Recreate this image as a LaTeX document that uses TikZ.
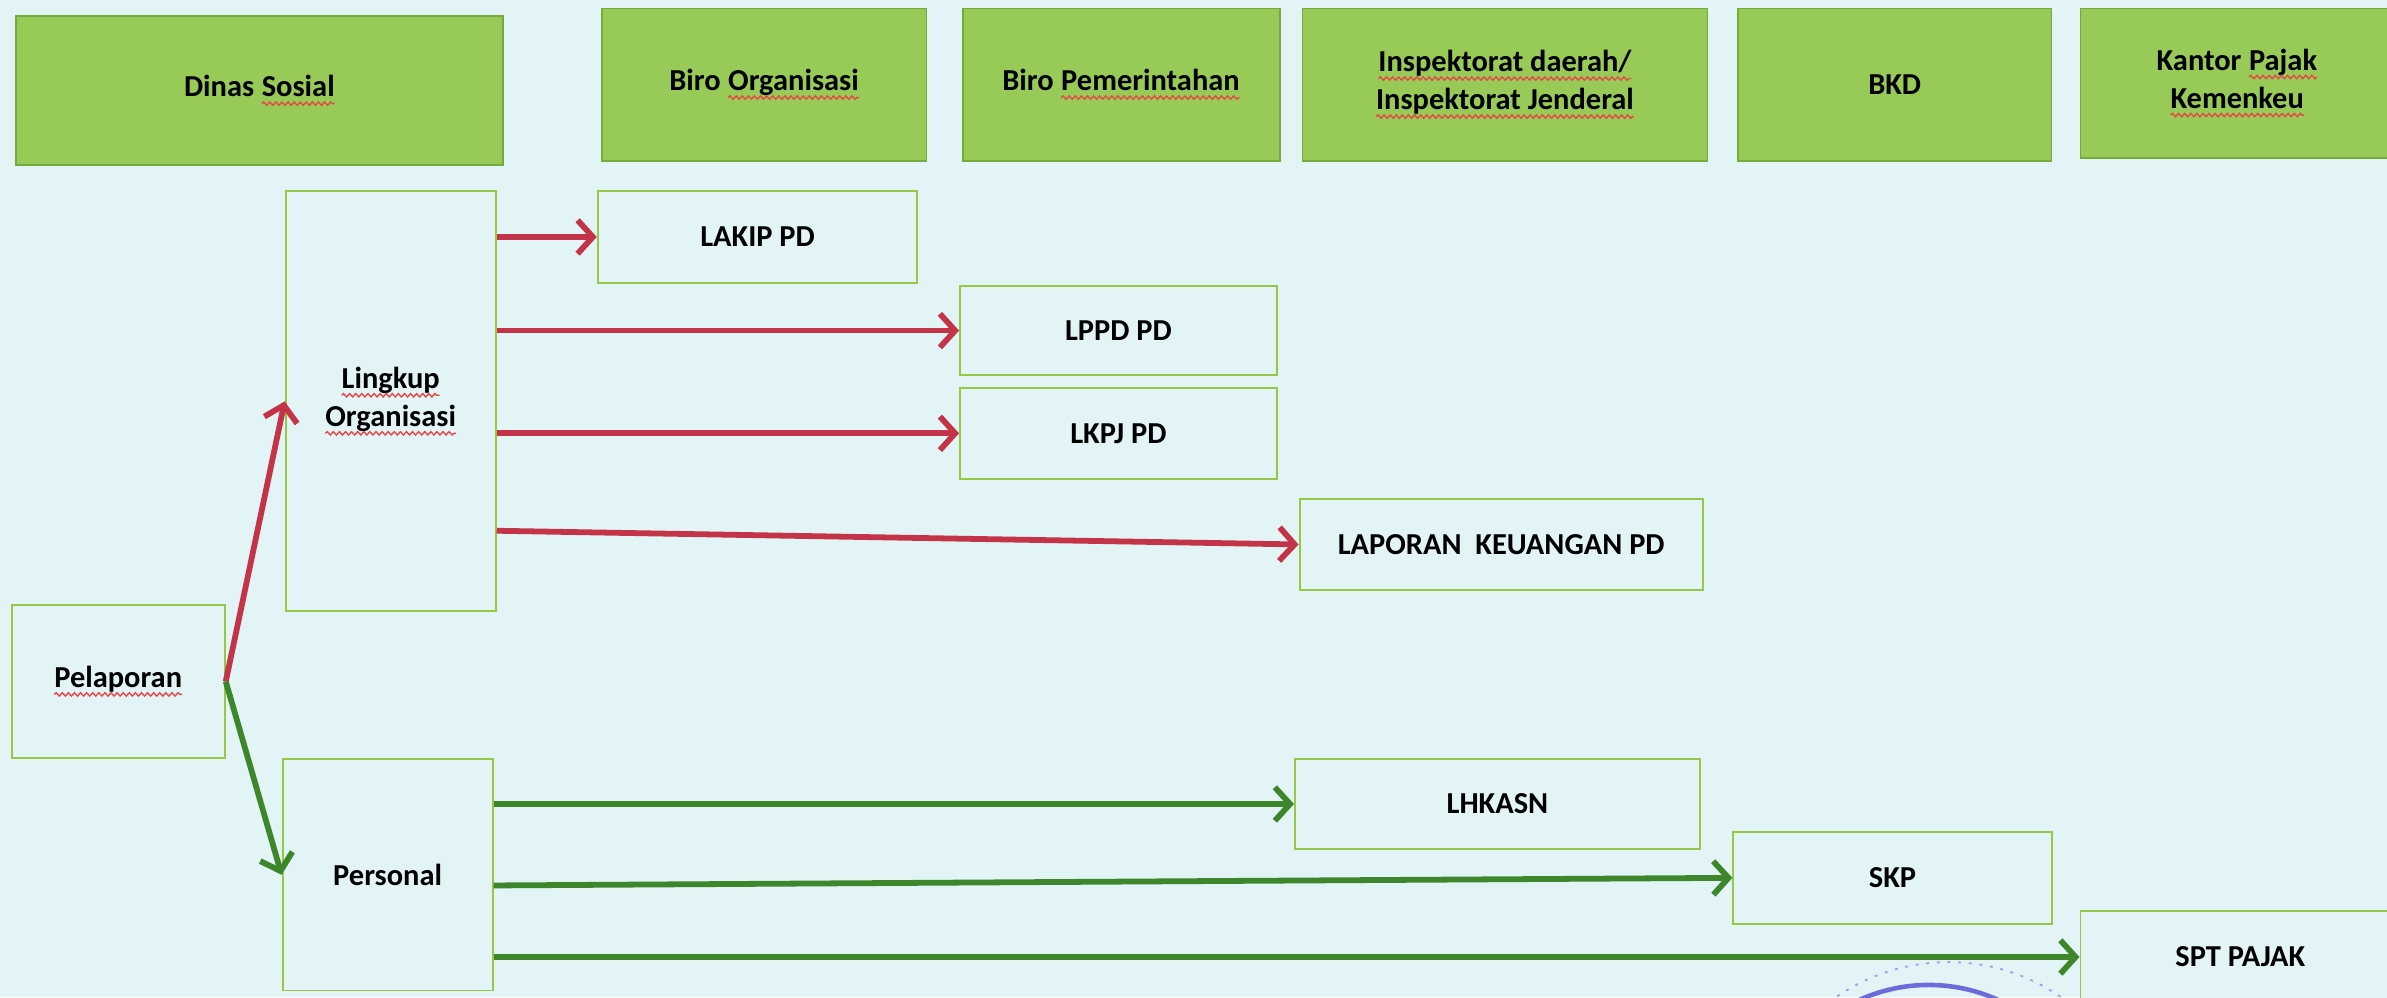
\documentclass[tikz,border=0pt]{standalone}
\usepackage{fontspec}
\setmainfont{Carlito}
\usetikzlibrary{arrows.meta,decorations.pathmorphing,calc}
\definecolor{bg}{RGB}{226,244,246}
\definecolor{hdrfill}{RGB}{152,202,88}
\definecolor{hdrline}{RGB}{118,170,60}
\definecolor{boxline}{RGB}{150,200,70}
\definecolor{redar}{RGB}{196,52,72}
\definecolor{greenar}{RGB}{62,134,44}
\definecolor{sqred}{RGB}{232,70,70}
\definecolor{stampblue}{RGB}{85,85,215}
\newcommand\sqw[1]{\tikz[baseline=(sqwn.base)]{\node[inner sep=0pt,outer sep=0pt,draw=none,fill=none,minimum width=0pt,minimum height=0pt,anchor=base] (sqwn) {#1};\draw[sqred,line width=0.9pt,decorate,decoration={snake,amplitude=1.1pt,segment length=4pt}] ([yshift=-4.5pt]sqwn.base west) -- ([yshift=-4.5pt]sqwn.base east);}}
\begin{document}
\begin{tikzpicture}[x=1pt,y=-1pt,
  hdr/.style={draw=hdrline,fill=hdrfill,line width=1.2pt,anchor=north west,align=center,inner sep=0pt,font=\bfseries\fontsize{20}{25}\selectfont},
  box/.style={draw=boxline,fill=bg,line width=1.3pt,anchor=north west,align=center,inner sep=0pt,font=\bfseries\fontsize{20}{25}\selectfont},
  redarrow/.style={draw=redar,line width=3.8pt,-{Straight Barb[length=10pt,width=22pt]}},
  greenarrow/.style={draw=greenar,line width=3.8pt,-{Straight Barb[length=10pt,width=22pt]}}]
\fill[bg] (0,0) rectangle (1568,655);
\useasboundingbox (0,0) rectangle (1568,655);
\clip (0,0) rectangle (1568,655);
% headers
\node[hdr,minimum width=320pt,minimum height=98pt] (dinas) at (10,10) {Dinas \sqw{Sosial}};
\node[hdr,minimum width=213pt,minimum height=100pt] (biroorg) at (395,5) {Biro \sqw{Organisasi}};
\node[hdr,minimum width=208pt,minimum height=100pt] (biropem) at (632,5) {Biro \sqw{Pemerintahan}};
\node[hdr,minimum width=266pt,minimum height=100pt] (insp) at (855,5) {\sqw{Inspektorat daerah/}\\\sqw{Inspektorat Jenderal}};
\node[hdr,minimum width=206pt,minimum height=100pt] (bkd) at (1141,5) {BKD};
\node[hdr,minimum width=206pt,minimum height=98pt] (kantor) at (1366,5) {Kantor \sqw{Pajak}\\\sqw{Kemenkeu}};
% body boxes
\node[box,minimum width=138pt,minimum height=276pt] (lingkup) at (187,125) {\sqw{Lingkup}\\\sqw{Organisasi}};
\node[box,minimum width=140pt,minimum height=100pt] (pelaporan) at (7,397) {\sqw{Pelaporan}};
\node[box,minimum width=138pt,minimum height=152pt] (personal) at (185,498) {Personal};
\node[box,minimum width=210pt,minimum height=60pt] (lakip) at (392,125) {LAKIP PD};
\node[box,minimum width=208pt,minimum height=59pt] (lppd) at (630,187) {LPPD PD};
\node[box,minimum width=208pt,minimum height=60pt] (lkpj) at (630,254) {LKPJ PD};
\node[box,minimum width=265pt,minimum height=60pt] (lapkeu) at (853,327) {LAPORAN\ \ KEUANGAN PD};
\node[box,minimum width=266pt,minimum height=59pt] (lhkasn) at (850,498) {LHKASN};
\node[box,minimum width=209pt,minimum height=60pt] (skp) at (1138,546) {SKP};
\node[box,minimum width=210pt,minimum height=60pt] (spt) at (1366,598) {SPT PAJAK};
% stamp
\draw[stampblue!55,line width=1.2pt,dash pattern=on 2pt off 5pt] (1280,762) circle [radius=130pt];
\draw[stampblue,line width=3pt,opacity=.85] (1267,757) circle [radius=110pt];
% red arrows
\draw[redarrow] (pelaporan.east) -- (lingkup.west);
\draw[redarrow] (lingkup.east |- lakip.west) -- (lakip.west);
\draw[redarrow] (lingkup.east |- lppd.west) -- (lppd.west);
\draw[redarrow] (lingkup.east |- lkpj.west) -- (lkpj.west);
\draw[redarrow] ([yshift=-85pt]lingkup.east) -- (lapkeu.west);
% green arrows
\draw[greenarrow] (pelaporan.east) -- (personal.west);
\draw[greenarrow] (personal.east |- lhkasn.west) -- (lhkasn.west);
\draw[greenarrow] ([yshift=-7pt]personal.east) -- (skp.west);
\draw[greenarrow] (personal.east |- spt.west) -- (spt.west);
\end{tikzpicture}
\end{document}
